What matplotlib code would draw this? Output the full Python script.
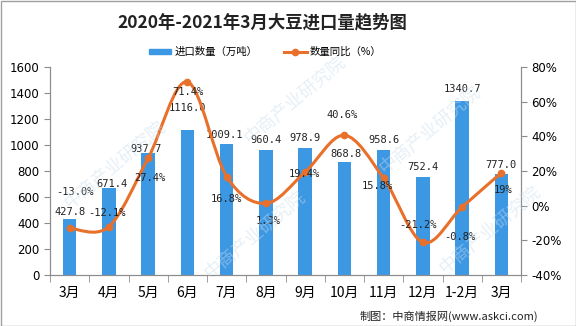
import numpy as np
import matplotlib
matplotlib.use("Agg")
import matplotlib.pyplot as plt
from matplotlib.path import Path
from matplotlib.patches import PathPatch, Rectangle
from matplotlib.lines import Line2D

plt.rcParams['font.family'] = ['Noto Sans CJK SC', 'DejaVu Sans']

# 数据
months = ['3月', '4月', '5月', '6月', '7月', '8月', '9月', '10月', '11月', '12月', '1-2月', '3月']
volume = [427.8, 671.4, 937.7, 1116.0, 1009.1, 960.4, 978.9, 868.8, 958.6, 752.4, 1340.7, 777.0]
yoy = [-13.0, -12.1, 27.4, 71.4, 16.8, 1.3, 19.4, 40.6, 15.8, -21.2, -0.8, 19.0]
yoy_text = ['-13.0%', '-12.1%', '27.4%', '71.4%', '16.8%', '1.3%', '19.4%', '40.6%',
            '15.8%', '-21.2%', '-0.8%', '19%']

# 标签偏移（像素）
vol_off = [(0, 7), (3, 4), (-2, 4), (0, 22), (-2, 9), (0, 10), (0, 10), (2, 8), (0, 10), (0, 10), (0, 12), (0, 9)]
yoy_off = [(5, 36), (-2, 14), (2, -20), (1, -10), (0, -22), (2, -18), (-1, -2), (-2, 20),
           (-6, -8), (-5, 17), (-2, -30), (2, -17)]

BLUE = '#3D98E4'
ORANGE = '#E8702A'
GRAY = '#8C8C8C'

fig = plt.figure(figsize=(5.76, 3.26), dpi=100)
fig.patch.set_facecolor('white')

# 水印
for wx, wy in [(115, 165), (295, 100), (430, 130), (255, 235), (490, 230)]:
    fig.text(wx / 576, 1 - wy / 326, '中商产业研究院', rotation=40, ha='center', va='center',
             fontsize=13, color='#C9DCEB', alpha=0.45, zorder=0)

ax = fig.add_axes([50 / 576, 51 / 326, 471 / 576, 208 / 326])
ax.patch.set_alpha(0)
ax2 = ax.twinx()

x = np.arange(len(months))
ax.bar(x, volume, width=0.35, color=BLUE, zorder=2)
ax.set_xlim(-0.5, len(months) - 0.5)
ax.set_ylim(0, 1600)
ax.set_yticks(range(0, 1601, 200))
ax.set_xticks(x)
ax.set_xticklabels(months, fontsize=10)
ax.set_xticks(np.arange(-0.5, len(months), 1), minor=True)
ax.tick_params(axis='x', which='major', length=0, pad=8)
ax.tick_params(axis='x', which='minor', length=5, color=GRAY, direction='out')
ax.tick_params(axis='y', length=4, color=GRAY, labelsize=8.5, direction='out')
for lab in ax.get_yticklabels():
    lab.set_family('DejaVu Sans')

ax2.set_ylim(-40, 80)
ax2.set_yticks(range(-40, 81, 20))
ax2.set_yticklabels([f'{v}%' for v in range(-40, 81, 20)])
ax2.tick_params(axis='y', length=4, color=GRAY, labelsize=8.5, direction='out')
for lab in ax2.get_yticklabels():
    lab.set_family('DejaVu Sans')

for a in (ax, ax2):
    a.spines['top'].set_visible(False)
    for s in ('left', 'right', 'bottom'):
        a.spines[s].set_color(GRAY)
        a.spines[s].set_linewidth(0.8)

# 平滑曲线（贝塞尔）
pts = np.column_stack([x, yoy]).astype(float)
verts = [pts[0]]
codes = [Path.MOVETO]
n = len(pts)
for i in range(n - 1):
    p0 = pts[i - 1] if i > 0 else pts[i]
    p1 = pts[i]
    p2 = pts[i + 1]
    p3 = pts[i + 2] if i + 2 < n else pts[i + 1]
    c1 = p1 + (p2 - p0) / 6
    c2 = p2 - (p3 - p1) / 6
    verts += [c1, c2, p2]
    codes += [Path.CURVE4] * 3
ax2.add_patch(PathPatch(Path(verts, codes), fill=False, edgecolor=ORANGE, lw=2.2, zorder=3))
ax2.plot(x, yoy, 'o', color=ORANGE, ms=4.5, zorder=4)

mono = 'DejaVu Sans Mono'
for i in range(n):
    ax.annotate(f'{volume[i]:.1f}', (x[i], volume[i]), xytext=vol_off[i], textcoords='offset pixels',
                ha='center', va='center', fontsize=7.5, family=mono, color='#222222', zorder=5)
    ax2.annotate(yoy_text[i], (x[i], yoy[i]), xytext=yoy_off[i], textcoords='offset pixels',
                 ha='center', va='center', fontsize=7.5, family=mono, color='#222222', zorder=5)

fig.text(262 / 576, 1 - 22 / 326, '2020年-2021年3月大豆进口量趋势图', ha='center', va='center',
         fontsize=12.5, fontweight='bold', color='#222222')

# 图例
handles = [Rectangle((0, 0), 1, 1, color=BLUE),
           Line2D([0], [0], color=ORANGE, lw=2.2, marker='o', ms=4.5)]
fig.legend(handles, ['进口数量（万吨）', '数量同比（%）'], loc='center', bbox_to_anchor=(265 / 576, 1 - 52 / 326),
           ncol=2, frameon=False, fontsize=7.5, handlelength=2.2, handleheight=0.35, columnspacing=2.5,
           handletextpad=0.3)

fig.text(538 / 576, 1 - 316 / 326, '制图：中商情报网(www.askci.com)', ha='right', va='center',
         fontsize=8, color='#222222')

fig.patches.append(Rectangle((0.5 / 576, 0.5 / 326), 575 / 576, 325 / 326, transform=fig.transFigure,
                             fill=False, edgecolor='#A0A0A0', lw=1))

fig.savefig('out.png', dpi=100)
